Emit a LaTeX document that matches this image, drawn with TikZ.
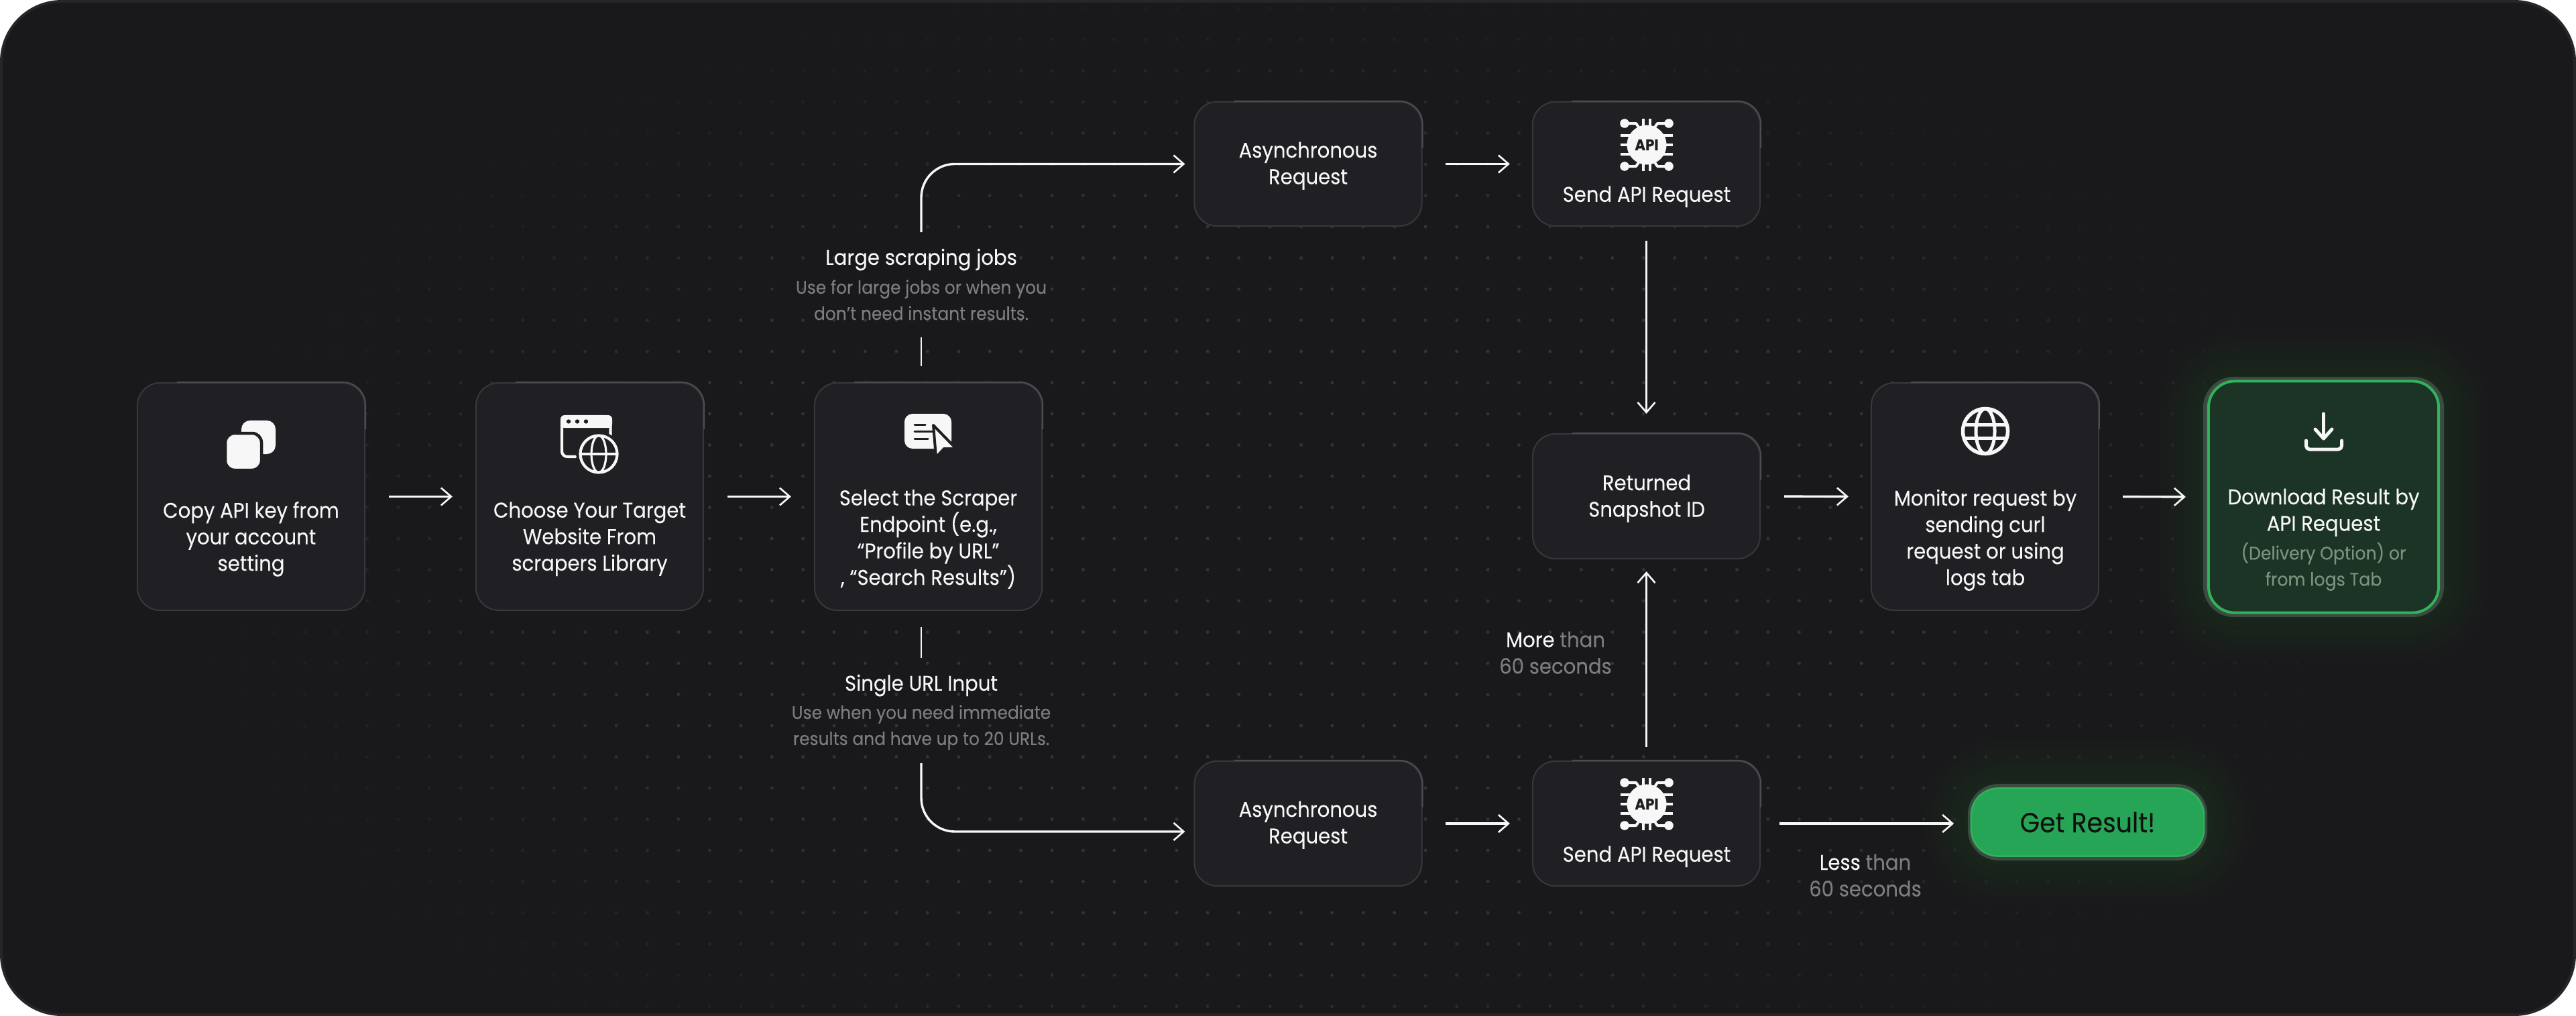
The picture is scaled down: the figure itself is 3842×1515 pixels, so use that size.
\documentclass[tikz,border=0pt]{standalone}
\usepackage{fontspec}
\setmainfont{Poppins}[FakeStretch=0.92,FakeBold=0.12]
\usetikzlibrary{arrows.meta,calc}
\definecolor{bgc}{HTML}{19181B}
\definecolor{edgec}{HTML}{26252A}
\definecolor{dotc}{HTML}{323237}
\definecolor{cardc}{HTML}{201F23}
\definecolor{cardl}{HTML}{38373C}
\definecolor{cardh}{HTML}{4C4B50}
\definecolor{wht}{HTML}{F7F7F7}
\definecolor{gry}{HTML}{7D7C80}
\definecolor{gryg}{HTML}{78947F}
\definecolor{grn}{HTML}{27A556}
\definecolor{grnl}{HTML}{2FB35B}
\definecolor{grnd}{HTML}{1B3425}
\definecolor{halo}{HTML}{3C4B42}
\definecolor{inkc}{HTML}{111111}
\newcommand{\fmain}{\fontsize{9pt}{11.24pt}\selectfont}
\newcommand{\fsm}{\fontsize{7.7pt}{11.1pt}\selectfont}
\newcommand{\fdl}{\fontsize{7.8pt}{11.1pt}\selectfont}
\newcommand{\fbig}{\fontsize{11.7pt}{14pt}\selectfont}
\tikzset{
  card/.style 2 args={draw=cardl,fill=cardc,line width=.2mm,rounded corners=3.4mm,inner sep=0pt,minimum width=#1*0.1mm,minimum height=#2*0.1mm},
  hilite/.style={draw=cardh,line width=.2mm,rounded corners=3.4mm},
  lbl/.style={align=center,inner sep=0pt,text=wht,font=\fmain,execute at begin node=\strut,execute at end node=\strut},
  sub/.style={lbl,text=gry,font=\fsm},
  dlsub/.style={lbl,text=gryg,font=\fdl},
  arr/.style={draw=wht,line width=.34mm,-{Straight Barb[length=1.5mm,width=2.6mm,line width=.26mm]}},
  stub/.style={draw=wht,line width=.25mm},
  icon/.style={draw=wht,line cap=round,line join=round},
  chip/.pic={
    \fill[wht] (0,0) circle (2.95mm);
    \foreach \s in {-1,1}{
      \foreach \t in {-14,0,14}{\draw[draw=wht,line width=.4mm] (\s*20,\t) -- (\s*39,\t);}
      \foreach \t in {-5,5}{\draw[draw=wht,line width=.4mm] (\t,\s*20) -- (\t,\s*39);}
      \fill[wht] (\s*33,-32) circle (.68mm);
      \fill[wht] (\s*33,32) circle (.68mm);
      \draw[draw=wht,line width=.4mm,line join=round] (\s*33,-32) -- (\s*16,-32) -- (\s*9,-22);
      \draw[draw=wht,line width=.4mm,line join=round] (\s*33,32) -- (\s*16,32) -- (\s*9,22);
    }
    \node[inner sep=0pt,text=cardc,font=\fontsize{6.6pt}{7pt}\bfseries\selectfont] (-api) at (0,0) {API};
  },
}
\newcommand{\cardbox}[5]{%
  \node[card={#4}{#5}] (#1) at (#2,#3) {};
  \draw[hilite] ($(#1.north west)+(60,0)$) -- (#1.north east) -- ($(#1.north east)+(0,70)$);
}
\begin{document}
\begin{tikzpicture}[x=0.01cm,y=-0.01cm]
\useasboundingbox (0,0) rectangle (3842,1515);
\fill[white] (0,0) rectangle (3842,1515);
\fill[bgc,draw=edgec,line width=.4mm,rounded corners=9mm] (2,2) rectangle (3840,1513);
% dotted ground, fading outward
\foreach \k in {-8,...,62}{
  \foreach \j in {-3,...,29}{
    \pgfmathsetmacro{\dx}{594+46.43*\k}
    \pgfmathsetmacro{\dy}{152+46.5*\j}
    \pgfmathsetmacro{\op}{max(0,min(100,150*(1-((\dx-1900)/1620)^2-((\dy-850)/900)^2)))}
    \ifdim\op pt>1pt
      \fill[dotc!\op!bgc] (\dx,\dy) circle (.25mm);
    \fi
  }
}
% glows
\foreach \i in {1,...,14}{
  \fill[grn,opacity=.009,rounded corners=5mm+\i*.5mm] ($(3286,562)+(-\i*5,-\i*5)$) rectangle ($(3645,920)+(\i*5,\i*5)$);
  \fill[grn,opacity=.009,rounded corners=5mm+\i*.5mm] ($(2935,1169)+(-\i*5,-\i*5)$) rectangle ($(3292,1283)+(\i*5,\i*5)$);
}
% cards
\cardbox{b1}{374.5}{740.5}{339}{339}
\cardbox{b2}{879.5}{740.5}{339}{339}
\cardbox{b3}{1384.5}{740.5}{339}{339}
\cardbox{a1}{1951}{244.5}{339}{185}
\cardbox{s1}{2455.5}{244.5}{339}{185}
\cardbox{rt}{2455.5}{740}{339}{186}
\cardbox{mo}{2960.5}{740.5}{339}{339}
\cardbox{a2}{1951}{1228}{339}{186}
\cardbox{s2}{2455.5}{1228}{339}{186}
% green cards
\node[fill=halo,rounded corners=4.6mm,inner sep=0pt,minimum width=35.9mm,minimum height=35.8mm] (dlh) at (3465.5,741) {};
\node[fill=grnd,draw=grnl,line width=.4mm,rounded corners=3.9mm,inner sep=0pt,minimum width=34.3mm,minimum height=34.5mm] (dl) at (dlh.center) {};
\node[fill=halo,rounded corners=4.6mm,inner sep=0pt,minimum width=35.7mm,minimum height=11.4mm] (grh) at (3113.5,1226) {};
\node[fill=grn,draw=grnl,line width=.25mm,rounded corners=4mm,inner sep=0pt,minimum width=34.7mm,minimum height=10.1mm] (gr) at (grh.center) {};
% text
\node[lbl] (t1) at (374.5,805.5) {Copy API key from\\your account\\setting};
\node[lbl] (t2) at (879.5,805.5) {Choose Your Target\\Website From\\scrapers Library};
\node[lbl] (t3) at (1384.5,807) {Select the Scraper\\Endpoint (e.g.,\\“Profile by URL”\\, “Search Results”)};
\node[lbl] (t4) at (2961,807) {Monitor request by\\sending curl\\request or using\\logs tab};
\node[lbl] (t5a) at (3465.5,766) {Download Result by\\API Request};
\node[dlsub] (t5b) at (3465.5,847) {(Delivery Option) or\\from logs Tab};
\node[lbl] (t6) at (1951,249) {Asynchronous\\Request};
\node[lbl] (t7) at (2456,293) {Send API Request};
\node[lbl] (t8) at (2456,745) {Returned\\Snapshot ID};
\node[lbl] (t9) at (1951,1232) {Asynchronous\\Request};
\node[lbl] (t10) at (2456,1277) {Send API Request};
\node[lbl] (la) at (1374,387) {Large scraping jobs};
\node[sub] (lad) at (1374,453) {Use for large jobs or when you\\don’t need instant results.};
\node[lbl] (lb) at (1374,1022) {Single URL Input};
\node[sub] (lbd) at (1374,1087) {Use when you need immediate\\results and have up to 20 URLs.};
\node[lbl,text=gry] (mt) at (2320,979) {\textcolor{wht}{More} than\\60 seconds};
\node[lbl,text=gry] (lt) at (2782,1311) {\textcolor{wht}{Less} than\\60 seconds};
\node[inner sep=0pt,text=inkc,font=\fbig] (gt) at (gr.center) {Get Result!};
% connectors
\coordinate (stA) at (1374,503);
\coordinate (stB) at (1374,346);
\coordinate (stC) at (1374,935);
\coordinate (stD) at (1374,1138);
\coordinate (a2in) at ($(a2.west)+(0,12)$);
\coordinate (stE) at (1374,981);
\draw[arr,shorten <=3.5mm,shorten >=3.4mm] (b1.east) -- (b2.west);
\draw[arr,shorten <=3.5mm,shorten >=3.4mm] (b2.east) -- (b3.west);
\draw[stub,shorten >=2.4mm] (stA) -- (stA |- b3.north);
\draw[stub] (stC) -- (stE);
\draw[arr,rounded corners=5mm,shorten >=1.3mm] (stB) |- (a1.west);
\draw[arr,rounded corners=5mm,shorten >=1.3mm] (stD) |- (a2in);
\draw[arr,shorten <=3.4mm,shorten >=3.3mm] (a1.east) -- (s1.west);
\draw[arr,shorten <=3.4mm,shorten >=3.3mm] (a2.east) -- (s2.west);
\draw[arr,line width=.26mm,shorten <=2.1mm,shorten >=2.9mm] (s1.south) -- (rt.north);
\draw[arr,line width=.26mm,shorten <=2mm,shorten >=1.8mm] (s2.north) -- (rt.south);
\draw[arr,shorten <=3.5mm,shorten >=3.3mm] (rt.east) -- (mo.west);
\draw[arr,shorten <=3.5mm,shorten >=3.2mm] (mo.east) -- (dl.west);
\draw[arr,shorten <=2.8mm,shorten >=2.0mm] (s2.east) -- (s2.east -| grh.west);
% copy icon
\fill[wht,rounded corners=1.3mm] (360,627) rectangle (411,677);
\fill[wht,draw=cardc,line width=.45mm,rounded corners=1.4mm] (336,646) rectangle (390,701);
% window + globe icon
\draw[icon,line width=.42mm,rounded corners=.8mm] (910.5,655) -- (910.5,621) -- (838,621) -- (838,681) -- (858,681);
\fill[wht,rounded corners=.6mm] (836,619) rectangle (913,638);
\foreach \px in {848,861,874}{\fill[cardc] (\px,628.5) circle (.32mm);}
\fill[cardc] (893,677) circle (3.35mm);
\draw[icon,line width=.42mm] (893,677) circle (2.75mm);
\draw[icon,line width=.32mm] (893,677) ellipse [x radius=1.1mm,y radius=2.75mm];
\draw[icon,line width=.32mm] (866,677) -- (920,677);
% selector icon
\fill[wht,rounded corners=1.2mm] (1349,617) rectangle (1419,669);
\foreach \ly/\lx in {633/1380,643/1392,654/1384}{\draw[draw=cardc,line width=.3mm,line cap=round] (1364,\ly) -- (\lx,\ly);}
\fill[wht,draw=cardc,line width=.4mm,line join=round] (1392,634) -- (1426,669) -- (1408,669) -- (1396,682) -- cycle;
% chips
\pic (c1) at (2456,216) {chip};
\pic (c2) at (2456,1199) {chip};
% monitor globe
\draw[icon,line width=.55mm] (2961,643) circle (3.35mm);
\draw[icon,line width=.5mm] (2961,643) ellipse [x radius=1.4mm,y radius=3.35mm];
\draw[icon,line width=.5mm] (2930,633) -- (2992,633);
\draw[icon,line width=.5mm] (2930,653) -- (2992,653);
% download icon
\draw[icon,line width=.5mm] (3465.5,617) -- (3465.5,653);
\draw[icon,line width=.5mm] (3453,640) -- (3465.5,654) -- (3478,640);
\draw[icon,line width=.5mm,rounded corners=.5mm] (3439.5,657) -- (3439.5,670) -- (3492.5,670) -- (3492.5,657);
\end{tikzpicture}
\end{document}
